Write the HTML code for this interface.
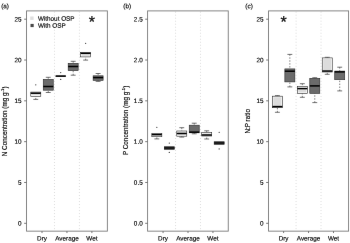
<!DOCTYPE html>
<html><head><meta charset="utf-8"><title>Boxplots</title>
<style>
html,body{margin:0;padding:0;background:#fff;}
body{width:350px;height:243px;overflow:hidden;font-family:"Liberation Sans",sans-serif;}
svg{display:block;will-change:transform;opacity:0.999}
.t{font-family:"Liberation Sans",sans-serif;font-size:317.5px;fill:#000;stroke:#000;stroke-width:7.5;}
.star{font-family:"Liberation Sans",sans-serif;font-size:800.0px;fill:#111;stroke:#000;stroke-width:12.5;}
.frame{fill:none;stroke:#7a7a7a;stroke-width:0.9;}
.tick{stroke:#6a6a6a;stroke-width:0.9;}
.div{stroke:#cacaca;stroke-width:0.8;stroke-dasharray:0.8 2.208;}
.bx{stroke:#2a2a2a;stroke-width:0.6;}
.med{stroke:#000;stroke-width:1.5;}
.wh{stroke:#4a4a4a;stroke-width:0.7;stroke-dasharray:1.45 1.48;}
.cap{stroke:#3a3a3a;stroke-width:0.7;}
.out{fill:#333;stroke:none;}
</style></head><body>
<svg width="350" height="243" viewBox="0 0 350 243">
<defs><filter id="soft" x="0" y="0" width="350" height="243" filterUnits="userSpaceOnUse" color-interpolation-filters="sRGB"><feConvolveMatrix order="3" kernelMatrix="0.0009 0.0282 0.0009 0.0282 0.8836 0.0282 0.0009 0.0282 0.0009" edgeMode="duplicate" preserveAlpha="true"/></filter></defs>
<g filter="url(#soft)">
<rect width="350" height="243" fill="#fff"/>
<g>
<line x1="54.48" y1="11.73" x2="54.48" y2="231.15" class="div"/>
<line x1="79.42" y1="11.73" x2="79.42" y2="231.15" class="div"/>
<line x1="35.78" y1="99.40" x2="35.78" y2="96.30" class="wh"/>
<line x1="33.33" y1="99.40" x2="38.23" y2="99.40" class="cap"/>
<rect x="30.78" y="92.10" width="10.00" height="4.20" fill="#fbfbfb" class="bx"/>
<rect x="31.78" y="93.10" width="8.00" height="2.20" fill="#dcdcdc"/>
<line x1="30.78" y1="93.20" x2="40.78" y2="93.20" class="med"/>
<circle cx="35.78" cy="84.80" r="0.62" class="out"/>
<line x1="48.25" y1="77.30" x2="48.25" y2="79.40" class="wh"/>
<line x1="45.80" y1="77.30" x2="50.70" y2="77.30" class="cap"/>
<line x1="48.25" y1="92.50" x2="48.25" y2="90.20" class="wh"/>
<line x1="45.80" y1="92.50" x2="50.70" y2="92.50" class="cap"/>
<rect x="43.25" y="79.40" width="10.00" height="10.80" fill="#6b6b6b" class="bx"/>
<line x1="43.25" y1="86.50" x2="53.25" y2="86.50" class="med"/>
<rect x="55.72" y="76.00" width="10.00" height="0.20" fill="#e4e4e4" class="bx"/>
<line x1="55.72" y1="76.10" x2="65.72" y2="76.10" class="med"/>
<circle cx="60.72" cy="72.60" r="0.62" class="out"/>
<circle cx="60.72" cy="79.40" r="0.62" class="out"/>
<line x1="73.18" y1="61.30" x2="73.18" y2="63.30" class="wh"/>
<line x1="70.73" y1="61.30" x2="75.63" y2="61.30" class="cap"/>
<line x1="73.18" y1="75.20" x2="73.18" y2="70.60" class="wh"/>
<line x1="70.73" y1="75.20" x2="75.63" y2="75.20" class="cap"/>
<rect x="68.18" y="63.30" width="10.00" height="7.30" fill="#6b6b6b" class="bx"/>
<line x1="68.18" y1="66.50" x2="78.18" y2="66.50" class="med"/>
<line x1="85.65" y1="60.10" x2="85.65" y2="56.90" class="wh"/>
<line x1="83.20" y1="60.10" x2="88.10" y2="60.10" class="cap"/>
<rect x="80.65" y="52.30" width="10.00" height="4.60" fill="#fbfbfb" class="bx"/>
<rect x="81.65" y="53.30" width="8.00" height="2.60" fill="#dcdcdc"/>
<line x1="80.65" y1="53.30" x2="90.65" y2="53.30" class="med"/>
<circle cx="85.65" cy="43.30" r="0.62" class="out"/>
<line x1="98.12" y1="73.50" x2="98.12" y2="75.80" class="wh"/>
<line x1="95.67" y1="73.50" x2="100.57" y2="73.50" class="cap"/>
<line x1="98.12" y1="81.40" x2="98.12" y2="80.40" class="wh"/>
<line x1="95.67" y1="81.40" x2="100.57" y2="81.40" class="cap"/>
<rect x="93.12" y="75.80" width="10.00" height="4.60" fill="#6b6b6b" class="bx"/>
<line x1="93.12" y1="77.60" x2="103.12" y2="77.60" class="med"/>
<rect x="26.55" y="10.9" width="80.80" height="220.25" class="frame"/>
<line x1="24.15" y1="223.30" x2="26.55" y2="223.30" class="tick"/>
<g transform="translate(21.65,225.50) rotate(0.03) scale(0.02)"><text text-anchor="end" class="t">0</text></g>
<line x1="24.15" y1="182.48" x2="26.55" y2="182.48" class="tick"/>
<g transform="translate(21.65,184.68) rotate(0.03) scale(0.02)"><text text-anchor="end" class="t">5</text></g>
<line x1="24.15" y1="141.66" x2="26.55" y2="141.66" class="tick"/>
<g transform="translate(21.65,143.86) rotate(0.03) scale(0.02)"><text text-anchor="end" class="t">10</text></g>
<line x1="24.15" y1="100.84" x2="26.55" y2="100.84" class="tick"/>
<g transform="translate(21.65,103.04) rotate(0.03) scale(0.02)"><text text-anchor="end" class="t">15</text></g>
<line x1="24.15" y1="60.02" x2="26.55" y2="60.02" class="tick"/>
<g transform="translate(21.65,62.22) rotate(0.03) scale(0.02)"><text text-anchor="end" class="t">20</text></g>
<line x1="24.15" y1="19.20" x2="26.55" y2="19.20" class="tick"/>
<g transform="translate(21.65,21.40) rotate(0.03) scale(0.02)"><text text-anchor="end" class="t">25</text></g>
<line x1="42.01" y1="231.15" x2="42.01" y2="233.05" class="tick"/>
<g transform="translate(42.01,240.40) rotate(0.03) scale(0.02)"><text text-anchor="middle" class="t">Dry</text></g>
<line x1="66.95" y1="231.15" x2="66.95" y2="233.05" class="tick"/>
<g transform="translate(66.95,240.40) rotate(0.03) scale(0.02)"><text text-anchor="middle" class="t">Average</text></g>
<line x1="91.89" y1="231.15" x2="91.89" y2="233.05" class="tick"/>
<g transform="translate(91.89,240.40) rotate(0.03) scale(0.02)"><text text-anchor="middle" class="t">Wet</text></g>
<g transform="translate(1.20,8.15) rotate(0.03) scale(0.02)"><text text-anchor="start" class="t">(a)</text></g>
<g transform="translate(7.45,121.33) rotate(-90) scale(0.02)"><text text-anchor="middle" class="t">N Concentration (mg g<tspan dy="-165.0" font-size="220.00000000000003">-1</tspan><tspan dy="165.0">)</tspan></text></g>
<g transform="translate(91.89,27.14) rotate(0.03) scale(0.02)"><text text-anchor="middle" class="star">*</text></g>
<rect x="30.20" y="16.5" width="3.4" height="3.4" fill="#dedede"/>
<rect x="30.50" y="23.9" width="3.2" height="3.2" fill="#4a4a4a"/>
<g transform="translate(37.90,20.65) rotate(0.03) scale(0.02)"><text text-anchor="start" class="t">Without OSP</text></g>
<g transform="translate(37.90,27.85) rotate(0.03) scale(0.02)"><text text-anchor="start" class="t">With OSP</text></g>
</g>
<g>
<line x1="175.53" y1="11.73" x2="175.53" y2="231.15" class="div"/>
<line x1="200.47" y1="11.73" x2="200.47" y2="231.15" class="div"/>
<line x1="156.83" y1="138.90" x2="156.83" y2="136.70" class="wh"/>
<line x1="154.38" y1="138.90" x2="159.28" y2="138.90" class="cap"/>
<rect x="151.83" y="133.60" width="10.00" height="3.10" fill="#fbfbfb" class="bx"/>
<rect x="152.83" y="134.60" width="8.00" height="1.10" fill="#dcdcdc"/>
<line x1="151.83" y1="134.60" x2="161.83" y2="134.60" class="med"/>
<circle cx="156.83" cy="127.30" r="0.62" class="out"/>
<rect x="164.30" y="146.70" width="10.00" height="2.80" fill="#6b6b6b" class="bx"/>
<line x1="164.30" y1="148.00" x2="174.30" y2="148.00" class="med"/>
<circle cx="169.30" cy="143.10" r="0.62" class="out"/>
<circle cx="169.30" cy="152.40" r="0.62" class="out"/>
<line x1="181.77" y1="127.70" x2="181.77" y2="131.00" class="wh"/>
<line x1="179.32" y1="127.70" x2="184.22" y2="127.70" class="cap"/>
<line x1="181.77" y1="137.10" x2="181.77" y2="136.20" class="wh"/>
<line x1="179.32" y1="137.10" x2="184.22" y2="137.10" class="cap"/>
<rect x="176.77" y="131.00" width="10.00" height="5.20" fill="#fbfbfb" class="bx"/>
<rect x="177.77" y="132.00" width="8.00" height="3.20" fill="#dcdcdc"/>
<line x1="176.77" y1="133.50" x2="186.77" y2="133.50" class="med"/>
<line x1="194.23" y1="123.20" x2="194.23" y2="125.20" class="wh"/>
<line x1="191.78" y1="123.20" x2="196.68" y2="123.20" class="cap"/>
<line x1="194.23" y1="133.80" x2="194.23" y2="132.80" class="wh"/>
<line x1="191.78" y1="133.80" x2="196.68" y2="133.80" class="cap"/>
<rect x="189.23" y="125.20" width="10.00" height="7.60" fill="#6b6b6b" class="bx"/>
<line x1="189.23" y1="132.15" x2="199.23" y2="132.15" class="med"/>
<line x1="206.70" y1="130.80" x2="206.70" y2="132.50" class="wh"/>
<line x1="204.25" y1="130.80" x2="209.15" y2="130.80" class="cap"/>
<line x1="206.70" y1="139.00" x2="206.70" y2="136.00" class="wh"/>
<line x1="204.25" y1="139.00" x2="209.15" y2="139.00" class="cap"/>
<rect x="201.70" y="132.50" width="10.00" height="3.50" fill="#fbfbfb" class="bx"/>
<rect x="202.70" y="133.50" width="8.00" height="1.50" fill="#dcdcdc"/>
<line x1="201.70" y1="135.00" x2="211.70" y2="135.00" class="med"/>
<rect x="214.17" y="141.70" width="10.00" height="2.80" fill="#6b6b6b" class="bx"/>
<line x1="214.17" y1="143.00" x2="224.17" y2="143.00" class="med"/>
<circle cx="219.17" cy="132.30" r="0.62" class="out"/>
<circle cx="219.17" cy="148.90" r="0.62" class="out"/>
<rect x="147.60" y="10.9" width="80.65" height="220.25" class="frame"/>
<line x1="145.20" y1="223.30" x2="147.60" y2="223.30" class="tick"/>
<g transform="translate(142.70,225.50) rotate(0.03) scale(0.02)"><text text-anchor="end" class="t">0.0</text></g>
<line x1="145.20" y1="182.48" x2="147.60" y2="182.48" class="tick"/>
<g transform="translate(142.70,184.68) rotate(0.03) scale(0.02)"><text text-anchor="end" class="t">0.5</text></g>
<line x1="145.20" y1="141.66" x2="147.60" y2="141.66" class="tick"/>
<g transform="translate(142.70,143.86) rotate(0.03) scale(0.02)"><text text-anchor="end" class="t">1.0</text></g>
<line x1="145.20" y1="100.84" x2="147.60" y2="100.84" class="tick"/>
<g transform="translate(142.70,103.04) rotate(0.03) scale(0.02)"><text text-anchor="end" class="t">1.5</text></g>
<line x1="145.20" y1="60.02" x2="147.60" y2="60.02" class="tick"/>
<g transform="translate(142.70,62.22) rotate(0.03) scale(0.02)"><text text-anchor="end" class="t">2.0</text></g>
<line x1="145.20" y1="19.20" x2="147.60" y2="19.20" class="tick"/>
<g transform="translate(142.70,21.40) rotate(0.03) scale(0.02)"><text text-anchor="end" class="t">2.5</text></g>
<line x1="163.06" y1="231.15" x2="163.06" y2="233.05" class="tick"/>
<g transform="translate(163.06,240.40) rotate(0.03) scale(0.02)"><text text-anchor="middle" class="t">Dry</text></g>
<line x1="188.00" y1="231.15" x2="188.00" y2="233.05" class="tick"/>
<g transform="translate(188.00,240.40) rotate(0.03) scale(0.02)"><text text-anchor="middle" class="t">Average</text></g>
<line x1="212.94" y1="231.15" x2="212.94" y2="233.05" class="tick"/>
<g transform="translate(212.94,240.40) rotate(0.03) scale(0.02)"><text text-anchor="middle" class="t">Wet</text></g>
<g transform="translate(123.35,8.15) rotate(0.03) scale(0.02)"><text text-anchor="start" class="t">(b)</text></g>
<g transform="translate(128.10,120.43) rotate(-90) scale(0.02)"><text text-anchor="middle" class="t">P Concentration (mg g<tspan dy="-165.0" font-size="220.00000000000003">-1</tspan><tspan dy="165.0">)</tspan></text></g>
</g>
<g>
<line x1="296.08" y1="11.73" x2="296.08" y2="231.15" class="div"/>
<line x1="321.02" y1="11.73" x2="321.02" y2="231.15" class="div"/>
<line x1="277.38" y1="95.60" x2="277.38" y2="96.20" class="wh"/>
<line x1="274.93" y1="95.60" x2="279.83" y2="95.60" class="cap"/>
<line x1="277.38" y1="112.30" x2="277.38" y2="107.70" class="wh"/>
<line x1="274.93" y1="112.30" x2="279.83" y2="112.30" class="cap"/>
<rect x="272.38" y="96.20" width="10.00" height="11.50" fill="#fbfbfb" class="bx"/>
<rect x="273.38" y="97.20" width="8.00" height="9.50" fill="#dcdcdc"/>
<line x1="272.38" y1="106.60" x2="282.38" y2="106.60" class="med"/>
<line x1="289.85" y1="54.40" x2="289.85" y2="68.90" class="wh"/>
<line x1="287.40" y1="54.40" x2="292.30" y2="54.40" class="cap"/>
<line x1="289.85" y1="86.90" x2="289.85" y2="81.90" class="wh"/>
<line x1="287.40" y1="86.90" x2="292.30" y2="86.90" class="cap"/>
<rect x="284.85" y="68.90" width="10.00" height="13.00" fill="#6b6b6b" class="bx"/>
<line x1="284.85" y1="71.20" x2="294.85" y2="71.20" class="med"/>
<line x1="302.32" y1="83.70" x2="302.32" y2="86.60" class="wh"/>
<line x1="299.87" y1="83.70" x2="304.77" y2="83.70" class="cap"/>
<line x1="302.32" y1="97.30" x2="302.32" y2="93.40" class="wh"/>
<line x1="299.87" y1="97.30" x2="304.77" y2="97.30" class="cap"/>
<rect x="297.32" y="86.60" width="10.00" height="6.80" fill="#fbfbfb" class="bx"/>
<rect x="298.32" y="87.60" width="8.00" height="4.80" fill="#dcdcdc"/>
<line x1="297.32" y1="88.60" x2="307.32" y2="88.60" class="med"/>
<line x1="314.78" y1="77.70" x2="314.78" y2="78.30" class="wh"/>
<line x1="312.33" y1="77.70" x2="317.23" y2="77.70" class="cap"/>
<line x1="314.78" y1="102.60" x2="314.78" y2="93.40" class="wh"/>
<line x1="312.33" y1="102.60" x2="317.23" y2="102.60" class="cap"/>
<rect x="309.78" y="78.30" width="10.00" height="15.10" fill="#6b6b6b" class="bx"/>
<line x1="309.78" y1="85.90" x2="319.78" y2="85.90" class="med"/>
<line x1="327.25" y1="57.30" x2="327.25" y2="57.90" class="wh"/>
<line x1="324.80" y1="57.30" x2="329.70" y2="57.30" class="cap"/>
<line x1="327.25" y1="74.30" x2="327.25" y2="72.00" class="wh"/>
<line x1="324.80" y1="74.30" x2="329.70" y2="74.30" class="cap"/>
<rect x="322.25" y="57.90" width="10.00" height="14.10" fill="#fbfbfb" class="bx"/>
<rect x="323.25" y="58.90" width="8.00" height="12.10" fill="#dcdcdc"/>
<line x1="322.25" y1="71.05" x2="332.25" y2="71.05" class="med"/>
<line x1="339.72" y1="67.20" x2="339.72" y2="71.10" class="wh"/>
<line x1="337.27" y1="67.20" x2="342.17" y2="67.20" class="cap"/>
<line x1="339.72" y1="90.90" x2="339.72" y2="79.70" class="wh"/>
<line x1="337.27" y1="90.90" x2="342.17" y2="90.90" class="cap"/>
<rect x="334.72" y="71.10" width="10.00" height="8.60" fill="#6b6b6b" class="bx"/>
<line x1="334.72" y1="71.90" x2="344.72" y2="71.90" class="med"/>
<rect x="268.55" y="10.9" width="80.05" height="220.25" class="frame"/>
<line x1="266.15" y1="223.30" x2="268.55" y2="223.30" class="tick"/>
<g transform="translate(263.65,225.50) rotate(0.03) scale(0.02)"><text text-anchor="end" class="t">0</text></g>
<line x1="266.15" y1="182.48" x2="268.55" y2="182.48" class="tick"/>
<g transform="translate(263.65,184.68) rotate(0.03) scale(0.02)"><text text-anchor="end" class="t">5</text></g>
<line x1="266.15" y1="141.66" x2="268.55" y2="141.66" class="tick"/>
<g transform="translate(263.65,143.86) rotate(0.03) scale(0.02)"><text text-anchor="end" class="t">10</text></g>
<line x1="266.15" y1="100.84" x2="268.55" y2="100.84" class="tick"/>
<g transform="translate(263.65,103.04) rotate(0.03) scale(0.02)"><text text-anchor="end" class="t">15</text></g>
<line x1="266.15" y1="60.02" x2="268.55" y2="60.02" class="tick"/>
<g transform="translate(263.65,62.22) rotate(0.03) scale(0.02)"><text text-anchor="end" class="t">20</text></g>
<line x1="266.15" y1="19.20" x2="268.55" y2="19.20" class="tick"/>
<g transform="translate(263.65,21.40) rotate(0.03) scale(0.02)"><text text-anchor="end" class="t">25</text></g>
<line x1="283.61" y1="231.15" x2="283.61" y2="233.05" class="tick"/>
<g transform="translate(283.61,240.40) rotate(0.03) scale(0.02)"><text text-anchor="middle" class="t">Dry</text></g>
<line x1="308.55" y1="231.15" x2="308.55" y2="233.05" class="tick"/>
<g transform="translate(308.55,240.40) rotate(0.03) scale(0.02)"><text text-anchor="middle" class="t">Average</text></g>
<line x1="333.49" y1="231.15" x2="333.49" y2="233.05" class="tick"/>
<g transform="translate(333.49,240.40) rotate(0.03) scale(0.02)"><text text-anchor="middle" class="t">Wet</text></g>
<g transform="translate(245.35,8.15) rotate(0.03) scale(0.02)"><text text-anchor="start" class="t">(c)</text></g>
<g transform="translate(249.75,121.33) rotate(-90) scale(0.02)"><text text-anchor="middle" class="t">N:P ratio</text></g>
<g transform="translate(283.61,27.14) rotate(0.03) scale(0.02)"><text text-anchor="middle" class="star">*</text></g>
</g>
</g>
</svg>
</body></html>
